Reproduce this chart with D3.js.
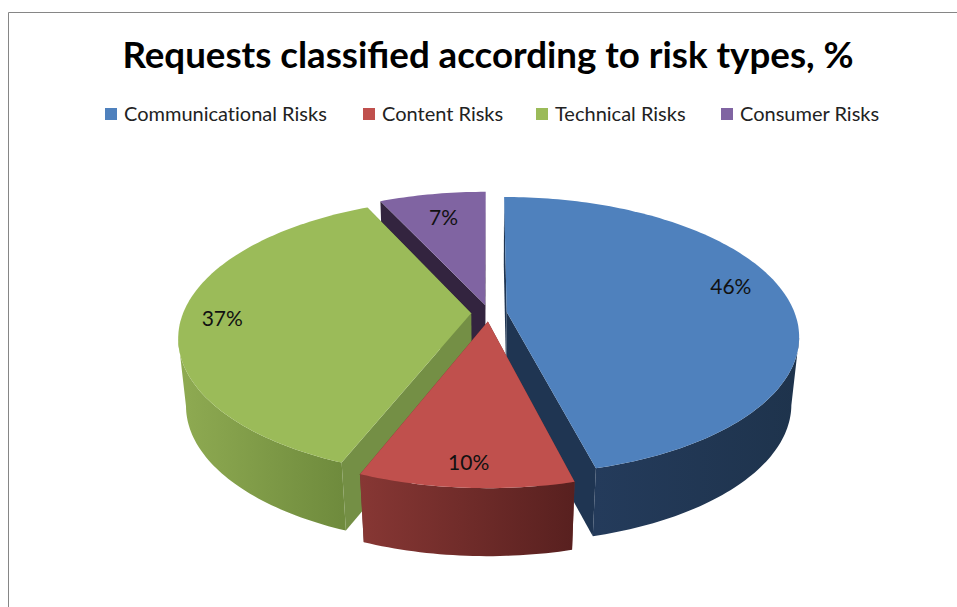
<!DOCTYPE html>
<html>
<head>
<meta charset="utf-8">
<script src="https://cdn.jsdelivr.net/npm/d3@7"></script>
<style>
  html, body { margin: 0; padding: 0; background: #fff; }
  svg { display: block; }
  text { font-family: Lato, "Open Sans", sans-serif; }
</style>
</head>
<body>
<div id="chart"></div>
<script>
const titleText = "Requests classified according to risk types, %";
const categories = ["Communicational Risks", "Content Risks", "Technical Risks", "Consumer Risks"];
const values = [46, 10, 37, 7];
const topColors = ["#4f81bd", "#c0504d", "#9bbb59", "#8064a2"];
const sideColors = ["#1f3552", "#6f2f2d", "#748f45", "#33243f"];
const wallLeft = ["#243b5b", "#873734", "#8fab52", "#4d3c62"];
const wallRight = ["#1e334c", "#58201f", "#6f8b3d", "#2e2339"];

const width = 957, height = 607;

const svg = d3.select("#chart").append("svg")
  .attr("width", width)
  .attr("height", height);
const defs = svg.append("defs");

// chart frame, only top and left edges are in the crop
svg.append("path")
  .attr("d", `M8.5,${height}V12.5H${width}`)
  .attr("fill", "none")
  .attr("stroke", "#868686");

svg.append("text")
  .attr("x", 488)
  .attr("y", 68)
  .attr("text-anchor", "middle")
  .attr("font-size", 36.7)
  .attr("font-weight", 700)
  .attr("fill", "#000")
  .text(titleText);

// legend
const legendX = [105, 363, 536, 721];
const legend = svg.append("g")
  .selectAll("g")
  .data(categories)
  .join("g")
  .attr("transform", (d, i) => `translate(${legendX[i]},108)`);
legend.append("rect")
  .attr("width", 12)
  .attr("height", 12)
  .attr("fill", (d, i) => topColors[i]);
legend.append("text")
  .attr("x", 19)
  .attr("y", 13)
  .attr("font-size", 20)
  .attr("fill", "#222")
  .style("font-variant-ligatures", "none")
  .text(d => d);

// perspective pie: the disc lies flat, tilted away from the viewer
const center = { x: 489, y: 313 };
const radiusX = 288, radiusY = 135, depth = 68;
const perspective = 0.171, shrink = 0.025, explode = 0.062;

function project(sx, sy, z) {
  // sx is right, sy is towards the back of the disc, z is down the extrusion
  const w = 1 + perspective * sy;
  return [center.x + radiusX * sx / (w + shrink * z), center.y + depth * z - radiusY * sy / w];
}

const pie = d3.pie().sort(null).value(d => d);
const slices = pie(values).map((d, i) => {
  const mid = (d.startAngle + d.endAngle) / 2;
  return {
    index: i,
    label: d.value + "%",
    start: d.startAngle,
    end: d.endAngle,
    mid: mid,
    ox: explode * Math.sin(mid),
    oy: explode * Math.cos(mid)
  };
});

function rim(s, z) {
  const steps = Math.ceil((s.end - s.start) / 0.02);
  const angle = d3.scaleLinear().domain([0, steps]).range([s.start, s.end]);
  return d3.range(steps + 1).map(k => project(s.ox + Math.sin(angle(k)), s.oy + Math.cos(angle(k)), z));
}

// part of a rim between its right and left turning points, this is the side facing the viewer
function frontPart(points) {
  let right = 0;
  while (right < points.length - 1 && points[right + 1][0] > points[right][0]) right++;
  let left = right;
  while (left < points.length - 1 && points[left + 1][0] < points[left][0]) left++;
  return points.slice(right, left + 1);
}

const line = d3.line();
// back slices first so the front ones cover them
const drawOrder = [3, 2, 0, 1];
const labelFraction = [0.8, 0.88, 0.86, 0.76];
const labelLift = [-12, -1, 2, 0];

drawOrder.forEach(i => {
  const s = slices[i];
  const apexTop = project(s.ox, s.oy, 0);
  const apexBottom = project(s.ox, s.oy, 1);
  const top = rim(s, 0);
  const bottom = rim(s, 1);
  const g = svg.append("g");

  // two radial walls
  [[top[0], bottom[0]], [top[top.length - 1], bottom[bottom.length - 1]]].forEach(edge => {
    g.append("path")
      .attr("d", line([apexTop, edge[0], edge[1], apexBottom]) + "Z")
      .attr("fill", sideColors[i]);
  });

  // outer wall
  const upper = frontPart(top);
  const lower = frontPart(bottom);
  if (upper.length > 1 && lower.length > 1) {
    const xs = upper.map(p => p[0]);
    const gradId = "wall" + i;
    const grad = defs.append("linearGradient")
      .attr("id", gradId)
      .attr("gradientUnits", "userSpaceOnUse")
      .attr("x1", d3.min(xs)).attr("x2", d3.max(xs))
      .attr("y1", 0).attr("y2", 0);
    grad.append("stop").attr("offset", 0).attr("stop-color", wallLeft[i]);
    grad.append("stop").attr("offset", 1).attr("stop-color", wallRight[i]);
    g.append("path")
      .attr("d", line(upper.concat(lower.slice().reverse())) + "Z")
      .attr("fill", `url(#${gradId})`);
  }

  g.append("path")
    .attr("d", line([apexTop].concat(top)) + "Z")
    .attr("fill", topColors[i]);
});

// data labels on top of everything
svg.append("g")
  .selectAll("text")
  .data(slices)
  .join("text")
  .attr("text-anchor", "middle")
  .attr("font-size", 21)
  .attr("fill", "#111")
  .each(function(s) {
    const f = labelFraction[s.index];
    const p = project(s.ox + f * Math.sin(s.mid), s.oy + f * Math.cos(s.mid), 0);
    d3.select(this).attr("x", p[0]).attr("y", p[1] + 7 + labelLift[s.index]);
  })
  .text(s => s.label);
</script>
</body>
</html>
